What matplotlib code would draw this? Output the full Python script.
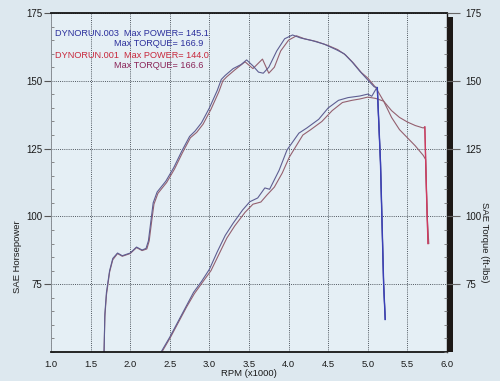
import matplotlib
matplotlib.use("Agg")
import matplotlib.pyplot as plt
from matplotlib.patches import Rectangle
from matplotlib.ticker import MultipleLocator

plt.rcParams['font.family'] = ['Liberation Sans', 'DejaVu Sans']

# run 003 (blue)
rpm_tq_003 = [1.67, 1.68, 1.70, 1.74, 1.78, 1.84, 1.90, 2.00, 2.08, 2.15, 2.20, 2.23, 2.26, 2.29,
              2.34, 2.45, 2.55, 2.65, 2.75, 2.82, 2.90, 3.00, 3.10, 3.15, 3.20, 3.30, 3.40, 3.47,
              3.55, 3.62, 3.68, 3.75, 3.85, 3.95, 4.05, 4.15, 4.30, 4.45, 4.60, 4.70, 4.80, 4.90,
              5.00, 5.08, 5.12, 5.16, 5.20, 5.22]
torque_003 = [50, 64, 72, 80, 84.5, 86.5, 85.5, 86.5, 88.7, 87.6, 88.2, 91, 98, 105,
              109, 113, 118, 124, 129.5, 131.5, 134.5, 140, 146.5, 150.5, 152, 154.5, 156, 157.7,
              155.5, 153.2, 152.8, 155, 161, 165.5, 166.9, 165.8, 164.8, 163.5, 161.5, 160, 157, 153.5,
              150.3, 147.8, 147.5, 120, 75, 62]
rpm_hp_003 = [2.39, 2.50, 2.60, 2.70, 2.80, 2.90, 3.00, 3.10, 3.20, 3.30, 3.42, 3.51, 3.61, 3.70,
              3.76, 3.88, 3.98, 4.13, 4.23, 4.38, 4.50, 4.63, 4.75, 4.90, 5.00, 5.05, 5.10, 5.12,
              5.16, 5.20, 5.22]
power_003 = [50, 55.5, 61, 66.5, 72, 76, 80.5, 87, 93, 97.5, 102.4, 105.4, 106.8, 110.5,
             110, 117, 124.5, 130.7, 132.6, 135.8, 140, 142.8, 143.8, 144.4, 145.1, 144.3, 146.8, 147.2,
             120, 75, 62]

# run 001 (red)
rpm_tq_001 = [1.67, 1.68, 1.70, 1.74, 1.78, 1.84, 1.90, 2.00, 2.08, 2.15, 2.21, 2.24, 2.27, 2.30,
              2.35, 2.46, 2.56, 2.66, 2.76, 2.84, 2.92, 3.02, 3.12, 3.17, 3.22, 3.32, 3.45, 3.55,
              3.67, 3.75, 3.82, 3.90, 4.00, 4.10, 4.20, 4.35, 4.50, 4.62, 4.72, 4.82, 4.92, 5.00,
              5.10, 5.20, 5.30, 5.40, 5.50, 5.60, 5.70, 5.73, 5.75, 5.77]
torque_001 = [50, 63, 71, 79.5, 84, 86.3, 85.3, 86.3, 88.5, 87.4, 88, 91, 98, 104.5,
              108.5, 112.5, 117.5, 123.5, 129, 131, 134, 139.5, 146, 150, 151.5, 154, 157, 154.5,
              158, 152.8, 155, 161, 165, 166.6, 165.5, 164.5, 163, 161.5, 159.5, 156.5, 153, 151,
              147.5, 142.5, 136.5, 132, 129, 126, 122.5, 121, 100, 90]
rpm_hp_001 = [2.40, 2.51, 2.61, 2.71, 2.81, 2.92, 3.02, 3.12, 3.22, 3.32, 3.45, 3.55, 3.65, 3.73,
              3.82, 3.92, 4.01, 4.18, 4.28, 4.42, 4.55, 4.68, 4.80, 4.90, 5.00, 5.10, 5.20, 5.30,
              5.40, 5.50, 5.60, 5.70, 5.72, 5.74, 5.76]
power_001 = [50, 55.5, 61, 66.5, 71.5, 76, 80, 86, 92, 96.5, 101.5, 104.5, 105.3, 108,
             110.8, 116, 121.9, 130, 132, 135, 139, 142, 142.8, 143.3, 144.0, 143.5, 142.5, 139,
             136.5, 134.8, 133.5, 132.6, 133, 110, 90]

legend_lines = [
    ("DYNORUN.003  Max POWER= 145.1", 55, 34, '#2b2f9c'),
    ("Max TORQUE= 166.9", 114, 44, '#2b2f9c'),
    ("DYNORUN.001  Max POWER= 144.0", 55, 55, '#c8283c'),
    ("Max TORQUE= 166.6", 114, 66, '#8a2458'),
]

W, H = 500, 381
fig = plt.figure(figsize=(5, 3.81), dpi=100, facecolor='#dde8ef')
ax = fig.add_axes([51 / W, 1 - 352 / H, 396 / W, 339 / H])
ax.set_facecolor('#e5eff5')

ax.set_xlim(1.0, 6.0)
ax.set_ylim(50, 175)
ax.xaxis.set_major_locator(MultipleLocator(0.5))
ax.yaxis.set_major_locator(MultipleLocator(25))
ax.yaxis.set_minor_locator(MultipleLocator(5))
ax.set_xticks([1.0, 1.5, 2.0, 2.5, 3.0, 3.5, 4.0, 4.5, 5.0, 5.5, 6.0])
ax.set_xticklabels([f"{v:.1f}" for v in ax.get_xticks()])
ax.set_yticks([75, 100, 125, 150, 175])
ax.grid(True, which='major', color='#505860', lw=0.7, linestyle=(0, (1, 1.2)))

blue_line = '#5e5e92'
red_line = '#94606f'
ax.plot(rpm_tq_001, torque_001, color=red_line, lw=0.8)
ax.plot(rpm_hp_001, power_001, color=red_line, lw=0.8)
ax.plot(rpm_tq_003, torque_003, color=blue_line, lw=0.8)
ax.plot(rpm_hp_003, power_003, color=blue_line, lw=0.8)
# the drop at the end of each run shows in full colour
ax.plot(rpm_tq_003[-4:], torque_003[-4:], color='#3a40b8', lw=1.0)
ax.plot(rpm_hp_001[-3:], power_001[-3:], color='#d03a60', lw=1.0)

for s in ['top', 'bottom']:
    ax.spines[s].set_color('#151515')
    ax.spines[s].set_linewidth(1.3)
ax.spines['left'].set_color('#8a9096')
ax.spines['left'].set_linewidth(0.7)
ax.spines['right'].set_color('#151515')
ax.spines['right'].set_linewidth(1.0)

ax.tick_params(axis='x', length=0, pad=6, labelsize=6.8, colors='#1a1a1a')
ax.tick_params(axis='y', which='major', direction='out', length=5, width=0.8,
               color='#555', labelsize=7, labelcolor='#1a1a1a', pad=1)
ax.tick_params(axis='y', which='minor', direction='in', length=2.5, width=0.6, color='#777')

ax2 = ax.twinx()
ax2.set_ylim(ax.get_ylim())
ax2.set_yticks(ax.get_yticks())
ax2.yaxis.set_minor_locator(MultipleLocator(5))
ax2.tick_params(axis='y', which='major', direction='out', length=9, width=0.8,
                color='#666', labelsize=7, labelcolor='#1a1a1a', pad=4)
ax2.tick_params(axis='y', which='minor', direction='in', length=2.5, width=0.6, color='#777')
for s in ax2.spines.values():
    s.set_visible(False)

# dark shadow along the right edge
ax.add_patch(Rectangle((1.0, 0), 6 / 396, 1 - 4 / 339, transform=ax.transAxes,
                       facecolor='#1c1816', edgecolor='none', clip_on=False, zorder=5))

for txt, x, y, c in legend_lines:
    fig.text(x / W, 1 - y / H, txt, color=c, fontsize=6.6, va='center', ha='left')

fig.text(18 / W, 1 - 257 / H, "SAE Horsepower", rotation=90, fontsize=6.8,
         color='#1a1a1a', ha='center', va='center')
fig.text(485 / W, 1 - 242 / H, "SAE Torque (ft-lbs)", rotation=-90, fontsize=6.8,
         color='#1a1a1a', ha='center', va='center')
fig.text(249 / W, 1 - 373 / H, "RPM (x1000)", fontsize=6.8, color='#1a1a1a',
         ha='center', va='center')

fig.savefig("out.png", dpi=100, facecolor=fig.get_facecolor())
